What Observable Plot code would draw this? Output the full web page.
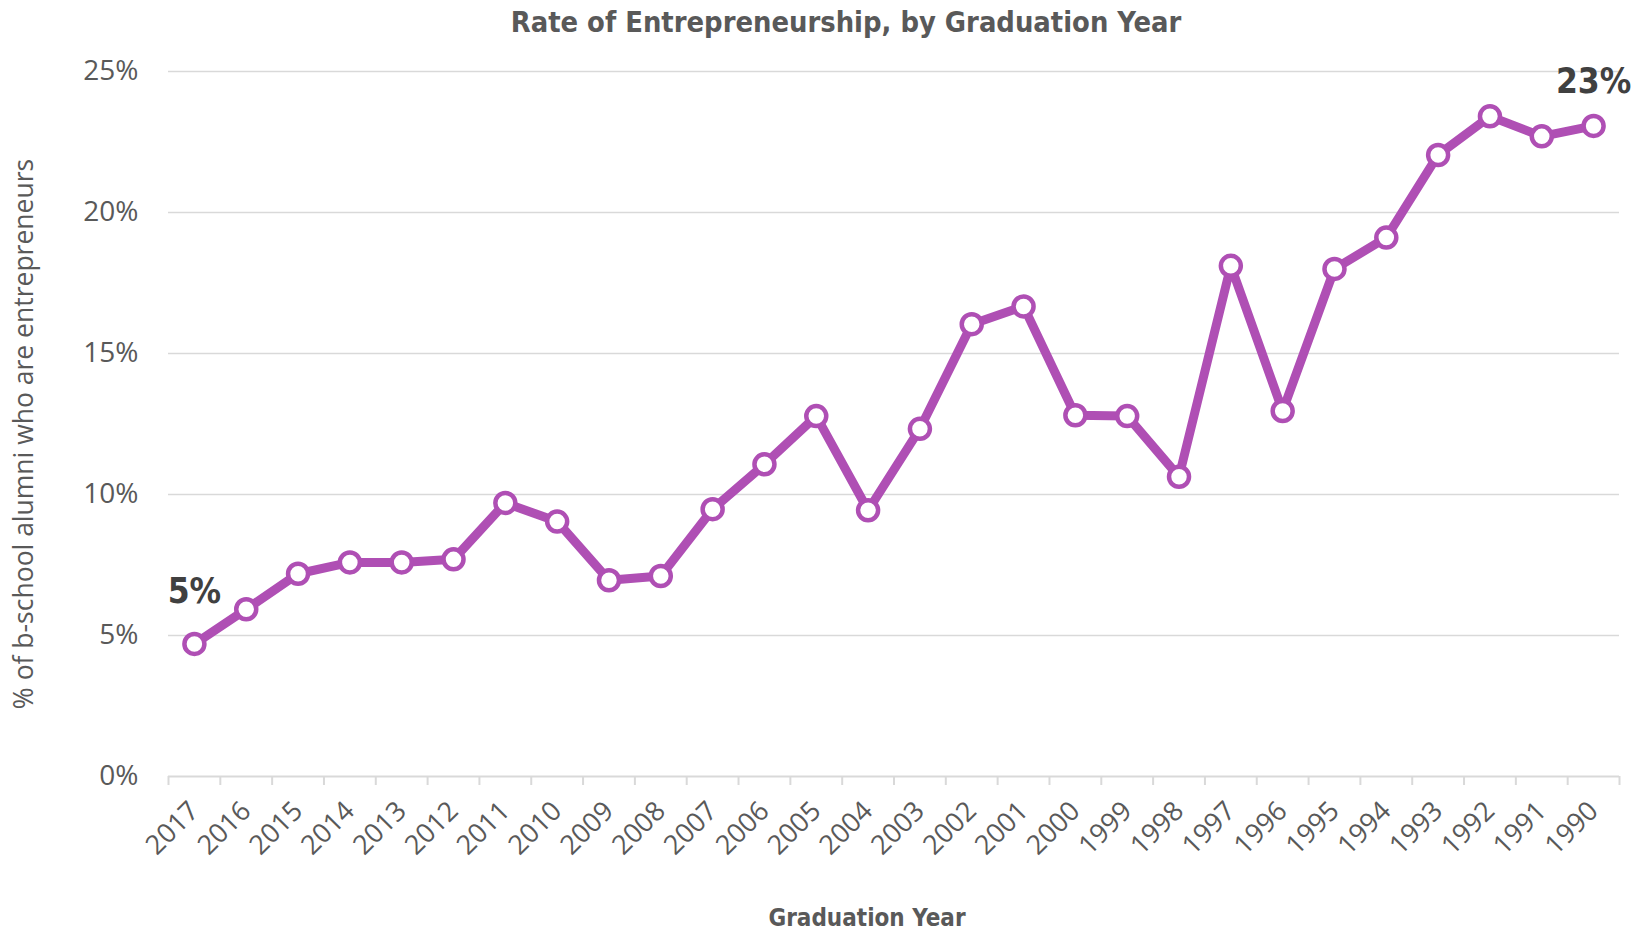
<!DOCTYPE html>
<html><head><meta charset="utf-8">
<script src="https://cdn.jsdelivr.net/npm/d3@7"></script>
<script src="https://cdn.jsdelivr.net/npm/@observablehq/plot@0.6"></script>
<style>html,body{margin:0;padding:0;background:#fff;overflow:hidden}svg{display:block}</style>
</head><body><div id="chart"></div>
<script>
const years = ["2017","2016","2015","2014","2013","2012","2011","2010","2009","2008","2007","2006","2005","2004","2003","2002","2001","2000","1999","1998","1997","1996","1995","1994","1993","1992","1991","1990"];
const rates = [4.70,5.93,7.19,7.59,7.59,7.70,9.70,9.04,6.96,7.11,9.48,11.07,12.78,9.44,12.33,16.04,16.67,12.81,12.78,10.63,18.11,12.96,18.00,19.11,22.04,23.41,22.70,23.07];
const yTicks = [0,5,10,15,20,25];
const firstYear = "2017";
const lastYear = "1990";
const titleText = "Rate of Entrepreneurship, by Graduation Year";
const xTitle = "Graduation Year";
const yTitle = "% of b-school alumni who are entrepreneurs";

const data = years.map((year, i) => ({i, year, rate: rates[i]}));
const firstPt = data.filter(d => d.year === firstYear);
const lastPt = data.filter(d => d.year === lastYear);
const boundaries = d3.range(years.length + 1).map(i => i - 0.5);

const W = 1637, H = 930, ML = 168, MR = 18, MT = 71, MB = 154;
const purple = "#AF4FB4";
const grey = "#595959";
const labelStyle = {x: "i", y: "rate", text: d => Math.round(d.rate) + "%", lineAnchor: "bottom",
  fontSize: 35, fontWeight: "bold", fill: "#404040", fontFamily: "'DejaVu Sans Condensed', sans-serif"};

const chart = Plot.plot({
  width: W, height: H,
  marginLeft: ML, marginRight: MR, marginTop: MT, marginBottom: MB,
  style: {background: "#fff", fontFamily: "'Open Sans', sans-serif"},
  x: {type: "linear", domain: [-0.5, years.length - 0.5]},
  y: {domain: [0, 25]},
  marks: [
    Plot.gridY(yTicks.slice(1), {stroke: "#d9d9d9", strokeOpacity: 1, strokeWidth: 1.5}),
    Plot.ruleY([0], {stroke: "#d9d9d9", strokeWidth: 2}),
    Plot.axisX({ticks: boundaries, tickFormat: () => "", tickSize: 9, stroke: "#d9d9d9", strokeWidth: 2, label: null}),
    Plot.axisX({ticks: d3.range(years.length), tickFormat: i => years[i], tickSize: 0, tickRotate: -45, tickPadding: 30,
      fontSize: 27, fill: grey, fontFamily: "'Open Sans', sans-serif", label: null}),
    Plot.axisY({ticks: yTicks, tickFormat: d => d + "%", tickSize: 0, tickPadding: 30, fontSize: 28, fill: grey, label: null}),
    Plot.line(data, {x: "i", y: "rate", stroke: purple, strokeWidth: 9, strokeLinejoin: "round"}),
    Plot.dot(data, {x: "i", y: "rate", r: 10, fill: "white", stroke: purple, strokeWidth: 4.5}),
    Plot.text(firstPt, {...labelStyle, dy: -41}),
    Plot.text(lastPt, {...labelStyle, dy: -33}),
    Plot.text([titleText], {frameAnchor: "top", dx: -48, dy: 31 - MT, lineAnchor: "bottom",
      fontSize: 28.8, fontWeight: "bold", fill: grey, fontFamily: "'DejaVu Sans Condensed', sans-serif"}),
    Plot.text([xTitle], {frameAnchor: "bottom", dx: -27, dy: 149, lineAnchor: "bottom",
      fontSize: 24, fontWeight: "bold", fill: grey, fontFamily: "'DejaVu Sans Condensed', sans-serif"}),
    Plot.text([yTitle], {frameAnchor: "left", dx: 24 - ML, dy: 10, rotate: -90, lineAnchor: "middle", textAnchor: "middle",
      fontSize: 26.5, fill: grey})
  ]
});
document.getElementById("chart").appendChild(chart);
</script>
</body></html>
